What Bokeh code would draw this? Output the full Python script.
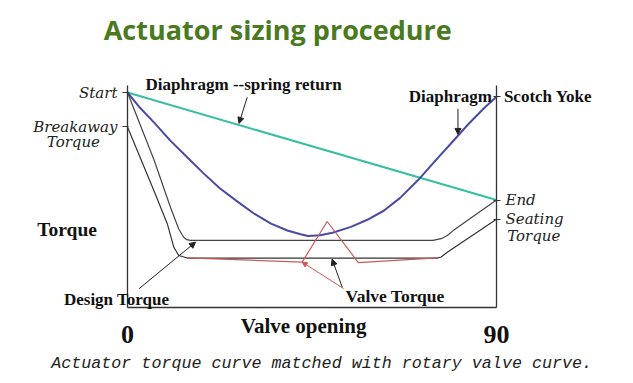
from bokeh.plotting import figure
from bokeh.models import (Range1d, LinearAxis, FixedTicker, Label, Arrow, NormalHead)
from bokeh.embed import file_html
from bokeh.resources import INLINE

# ---- data (valve opening in degrees, torque in relative units) ----
spring_x = [0, 90]
spring_t = [100, 50]

yoke_x = [0, 3, 6.5, 10.5, 14.5, 18.5, 22.5, 27, 31, 35, 39, 42, 44, 47, 50,
          54.5, 58.5, 62.5, 66.5, 71, 74.5, 79, 83, 87, 90]
yoke_t = [100, 93, 86, 77.5, 70, 62.5, 55.5, 49, 43.5, 39, 35.8, 34.2, 33.3, 33.6, 34.8,
          37.5, 40.8, 45, 51, 59.5, 67, 76.5, 85, 92.8, 98]

design_x = [0, 6.5, 10.5, 12.5, 13.7, 14.4, 15.4, 74.5, 76.5, 78, 79.6, 90]
design_t = [100, 68.5, 46.5, 36.5, 32.7, 31.6, 31.2, 31.2, 32, 33.5, 36, 50]

seat_x = [0, 6.4, 9.7, 11.3, 12.5, 14.6, 75.5, 76.5, 78, 90]
seat_t = [84, 54.5, 39, 28, 24.2, 23, 23, 23.5, 25.7, 41]

valve_x = [14.6, 42.6, 48.7, 56.3, 75.5]
valve_t = [23.1, 21.1, 40, 20.9, 23.1]

x_ticks = [0, 90]
left_ticks = [84, 100]
left_labels = {100: "Start", 84: "Breakaway"}
right_ticks = [41, 50, 98]
right_labels = {98: "", 50: "End", 41: "Seating"}

W, H = 633, 383
PX_X, PX_Y = 4.1, 2.15          # pixels per degree / per torque unit
X0, Y0 = 127, 307               # canvas position of the origin
p = figure(width=W, height=H,
           x_range=Range1d(-X0 / PX_X, (W - X0) / PX_X),
           y_range=Range1d(-(H - Y0) / PX_Y, Y0 / PX_Y),
           x_axis_location=None, y_axis_location=None,
           output_backend="svg", toolbar_location=None, min_border=0)
p.outline_line_color = None
p.grid.visible = False
p.background_fill_color = "white"
p.border_fill_color = "white"

AX = "#333333"
TOP = 103.3
bottom = LinearAxis(fixed_location=0, bounds=(0, 90), ticker=FixedTicker(ticks=x_ticks),
                    major_tick_in=0, major_tick_out=0, minor_tick_in=0, minor_tick_out=0,
                    axis_line_color=AX, axis_line_width=1.3,
                    major_label_text_font="Liberation Serif", major_label_text_font_style="bold",
                    major_label_text_font_size="26px", major_label_text_color="#111111",
                    major_label_standoff=18)
p.add_layout(bottom, "below")

left = LinearAxis(fixed_location=0, bounds=(0, TOP),
                  ticker=FixedTicker(ticks=left_ticks), major_label_overrides=left_labels,
                  major_tick_in=1, major_tick_out=5, minor_tick_in=0, minor_tick_out=0,
                  axis_line_color=AX, axis_line_width=1.3, major_tick_line_color=AX,
                  major_label_text_font="DejaVu Serif", major_label_text_font_style="italic",
                  major_label_text_font_size="15px", major_label_text_color="#222222",
                  major_label_standoff=5)
p.add_layout(left, "left")

right = LinearAxis(fixed_location=90, bounds=(0, TOP),
                   ticker=FixedTicker(ticks=right_ticks), major_label_overrides=right_labels,
                   major_tick_in=3, major_tick_out=4, minor_tick_in=0, minor_tick_out=0,
                   axis_line_color=AX, axis_line_width=1.3, major_tick_line_color=AX,
                   major_label_text_font="DejaVu Serif", major_label_text_font_style="italic",
                   major_label_text_font_size="15px", major_label_text_color="#222222",
                   major_label_standoff=5)
p.add_layout(right, "right")

# ---- curves ----
p.line(spring_x, spring_t, line_color="#38bea0", line_width=2)
p.line(yoke_x, yoke_t, line_color="#4a4aa2", line_width=2)
p.line(design_x, design_t, line_color="#444444", line_width=1.2)
p.line(seat_x, seat_t, line_color="#333333", line_width=1.2)
p.line(valve_x, valve_t, line_color="#cc5a5a", line_width=1.2)

# ---- arrows ----
def arrow(x0, y0, x1, y1, color="#222222", size=6):
    p.add_layout(Arrow(end=NormalHead(size=size, fill_color=color, line_color=color),
                       x_start=x0, y_start=y0, x_end=x1, y_end=y1,
                       line_color=color, line_width=1))

arrow(29.2, 97.8, 27.2, 85.6)
arrow(80.6, 92.4, 80.6, 80.5)
arrow(2.8, 8.7, 16.6, 30.4)
arrow(52.4, 9.3, 49.9, 22.5)
arrow(52.7, 8.8, 42.6, 21.1, color="#cc5a5a", size=5)

# ---- texts ----
def lab(x, y, text, size, font="Liberation Serif", style="bold", color="#111111", align="left"):
    p.add_layout(Label(x=x, y=y, text=text, text_font=font, text_font_style=style,
                       text_font_size=size, text_color=color, text_align=align,
                       text_baseline="alphabetic"))

lab(-5.8, 129.3, "Actuator sizing procedure", "27px", font="Open Sans", color="#4a7a1e")
lab(4.4, 103.6, "Diaphragm --spring return", "17px")
lab(68.6, 98.3, "Diaphragm", "17px")
lab(91.8, 98.3, "Scotch Yoke", "17px")
lab(-13.2, 76.9, "Torque", "15px", font="DejaVu Serif", style="italic", color="#222222", align="center")
lab(92.6, 33.3, "Torque", "15px", font="DejaVu Serif", style="italic", color="#222222")
lab(-22.0, 36.5, "Torque", "19.5px")
lab(-15.5, 3.6, "Design Torque", "17px")
lab(53.2, 5.5, "Valve Torque", "17.5px")
lab(27.6, -8.7, "Valve opening", "21px")
lab(-18.6, -25.9, "Actuator torque curve matched with rotary valve curve.", "16.7px",
    font="Liberation Mono", style="italic", color="#222222")

open("out.html", "w").write(file_html(p, INLINE))
